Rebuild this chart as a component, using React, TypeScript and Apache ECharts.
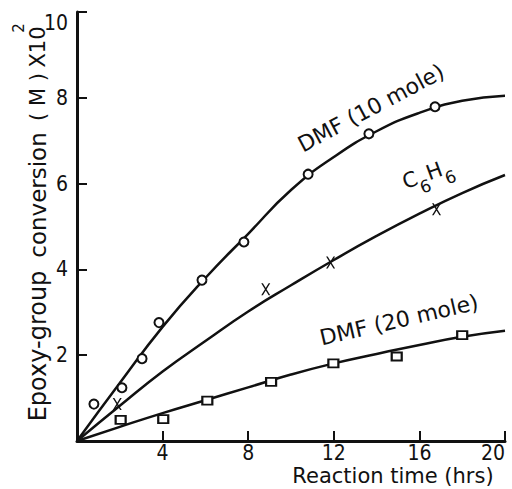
import React, { useEffect, useRef } from "react";
import * as echarts from "echarts";

// Smooth fitted curves
const fitX = [0, 2, 4, 6, 8, 10, 12, 14, 16, 18, 20];
const dmf10Fit = [0, 1.35, 2.66, 3.8, 4.83, 5.85, 6.62, 7.22, 7.65, 7.93, 8.05];
const c6h6Fit = [0, 0.82, 1.62, 2.33, 3.02, 3.63, 4.22, 4.78, 5.3, 5.78, 6.2];
const dmf20Fit = [0, 0.33, 0.65, 0.95, 1.25, 1.55, 1.81, 2.03, 2.24, 2.43, 2.57];

// Measured points
const dmf10X = [0.79, 2.1, 3.04, 3.83, 5.84, 7.8, 10.8, 13.64, 16.73];
const dmf10Y = [0.86, 1.24, 1.92, 2.76, 3.75, 4.64, 6.22, 7.16, 7.79];
const c6h6X = [1.88, 8.82, 11.85, 16.8];
const c6h6Y = [0.86, 3.54, 4.16, 5.4];
const dmf20X = [2.04, 4.03, 6.09, 9.07, 11.98, 14.94, 18.0];
const dmf20Y = [0.49, 0.51, 0.94, 1.38, 1.81, 1.97, 2.47];

const xTicks = [4, 8, 12, 16, 20];
const yTicks = [2, 4, 6, 8, 10];

const INK = "#111";
const numFont = "'Liberation Sans Narrow','DejaVu Sans Condensed','Liberation Sans',sans-serif";
const txtFont = "'DejaVu Sans',sans-serif";

const zip = (a: number[], b: number[]) => a.map((v, i) => [v, b[i]]);

const crossPath = "path://M0,0 L1.8,0 L10,12 L8.2,12 Z M8.2,0 L10,0 L1.8,12 L0,12 Z";

function txt(text: string, x: number, y: number, rotDeg: number, fontSize: number, extra: any = {}) {
  return {
    type: "text",
    x,
    y,
    rotation: (rotDeg * Math.PI) / 180,
    silent: true,
    style: {
      text,
      fill: INK,
      fontSize,
      fontFamily: txtFont,
      align: "center",
      verticalAlign: "middle",
      textAlign: "center",
      textVerticalAlign: "middle",
      ...extra,
    },
  };
}

export default function App() {
  const ref = useRef<HTMLDivElement>(null);
  useEffect(() => {
    if (!ref.current) return;
    const chart = echarts.init(ref.current, undefined, { renderer: "svg" });
    const axisCommon = {
      type: "value",
      interval: 2,
      axisLine: { show: true, lineStyle: { color: INK, width: 3 } },
      axisTick: { show: true, inside: true, length: 10, lineStyle: { color: INK, width: 2 } },
      splitLine: { show: false },
    };
    const curve = (d: number[]) => ({
      type: "line",
      data: zip(fitX, d),
      smooth: 0.5,
      showSymbol: false,
      lineStyle: { color: INK, width: 2.5 },
      z: 2,
    });
    chart.setOption({
      animation: false,
      backgroundColor: "#fff",
      grid: { left: 77, right: 7, top: 12, bottom: 48, containLabel: false },
      xAxis: {
        ...axisCommon,
        min: 0,
        max: 20,
        interval: 4,
        axisLabel: {
          color: INK,
          fontSize: 21,
          lineHeight: 20,
          fontFamily: numFont,
          margin: 2,
          alignMaxLabel: "right",
          formatter: (v: number) => (xTicks.includes(v) ? String(v) : ""),
        },
      },
      yAxis: {
        ...axisCommon,
        min: 0,
        max: 10,
        axisLabel: {
          color: INK,
          fontSize: 21,
          fontFamily: numFont,
          margin: 9,
          verticalAlignMaxLabel: "top",
          formatter: (v: number) => (yTicks.includes(v) ? String(v) : ""),
        },
      },
      series: [
        curve(dmf10Fit),
        curve(c6h6Fit),
        curve(dmf20Fit),
        {
          type: "scatter",
          data: zip(dmf10X, dmf10Y),
          symbol: "circle",
          symbolSize: 9,
          itemStyle: { color: "#fff", borderColor: INK, borderWidth: 2, opacity: 1 },
          z: 5,
        },
        {
          type: "scatter",
          data: zip(c6h6X, c6h6Y),
          symbol: crossPath,
          symbolSize: [9, 12],
          itemStyle: { color: INK, borderWidth: 0, opacity: 1 },
          z: 5,
        },
        {
          type: "scatter",
          data: zip(dmf20X, dmf20Y),
          symbol: "rect",
          symbolSize: [10, 8],
          itemStyle: { color: "#fff", borderColor: INK, borderWidth: 2, opacity: 1 },
          z: 5,
        },
      ],
      graphic: [
        txt("Epoxy-group", 38, 346, 90, 24),
        txt("conversion", 38, 195, 90, 23),
        txt("( M )", 38, 97, 90, 21),
        txt("X10", 38, 47, 90, 21),
        txt("2", 19, 28, 90, 15),
        txt("Reaction time (hrs)", 393, 476, 0, 21),
        txt("DMF (10 mole)", 371, 108, 28, 22),
        txt("DMF (20 mole)", 399, 320, 13, 22),
        {
          type: "text",
          x: 429,
          y: 178,
          rotation: (20 * Math.PI) / 180,
          silent: true,
          style: {
            text: "{a|C}{s|6}{a|H}{s|6}",
            align: "center",
            verticalAlign: "middle",
            textAlign: "center",
            textVerticalAlign: "middle",
            rich: {
              a: { fontSize: 21, fontFamily: txtFont, color: INK, fill: INK, verticalAlign: "top", lineHeight: 22 },
              s: { fontSize: 17, fontFamily: txtFont, color: INK, fill: INK, verticalAlign: "bottom", lineHeight: 30 },
            },
          },
        },
      ],
    });
    return () => chart.dispose();
  }, []);
  return (
    <div
      ref={ref}
      style={{ position: "fixed", left: 0, top: 0, width: 512, height: 489, background: "#fff" }}
    />
  );
}
